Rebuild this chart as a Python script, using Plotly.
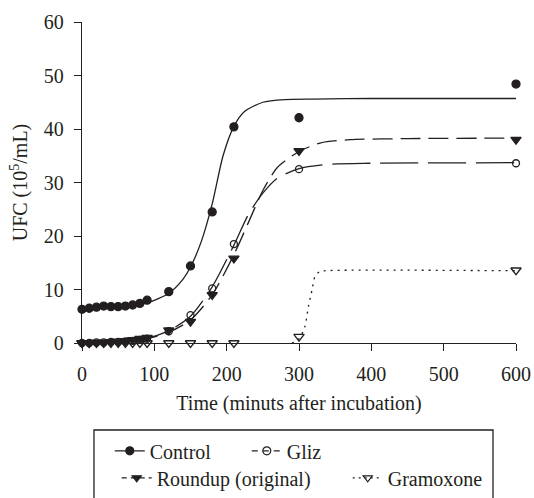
import plotly.graph_objects as go

# ---- data ----
time = [0, 10, 20, 30, 40, 50, 60, 70, 80, 90, 120, 150, 180, 210, 300, 600]
control = [6.3, 6.5, 6.7, 6.9, 6.8, 6.8, 6.9, 7.1, 7.4, 8.0, 9.6, 14.4, 24.5, 40.4, 42.1, 48.4]
gliz = [0.0, 0.0, 0.1, 0.1, 0.2, 0.2, 0.3, 0.4, 0.6, 0.8, 2.2, 5.2, 10.2, 18.5, 32.5, 33.6]
roundup = [0.0, 0.0, 0.1, 0.1, 0.2, 0.3, 0.4, 0.6, 0.8, 1.0, 2.4, 4.0, 9.0, 15.8, 35.9, 38.0]
gramoxone = [0, 0, 0, 0, 0, 0, 0, 0, 0, 0, 0, 0, 0, 0, 1.2, 13.6]

# fitted curves
ctrl_fit_x = [0, 50, 90, 120, 140, 150, 165, 180, 195, 210, 225, 250, 280, 320, 400, 600]
ctrl_fit_y = [6.4, 6.8, 7.5, 9.3, 12.0, 14.2, 19.0, 26.0, 35.0, 40.5, 43.3, 45.0, 45.5, 45.6, 45.7, 45.7]
gliz_fit_x = [0, 50, 90, 120, 150, 180, 210, 230, 250, 270, 300, 340, 400, 600]
gliz_fit_y = [0.1, 0.3, 0.9, 2.3, 5.0, 10.5, 18.3, 24.0, 28.0, 30.8, 32.6, 33.4, 33.6, 33.7]
roundup_fit_x = [0, 50, 90, 120, 150, 180, 210, 230, 250, 270, 300, 330, 370, 450, 600]
roundup_fit_y = [0.0, 0.2, 0.8, 2.0, 4.3, 9.0, 16.5, 22.5, 28.5, 32.8, 35.8, 37.4, 38.0, 38.2, 38.3]
gram_fit_x = [0, 290, 300, 308, 313, 318, 322, 328, 335, 600]
gram_fit_y = [0, 0, 0.8, 3.0, 6.8, 9.9, 12.4, 13.3, 13.5, 13.5]

x_ticks = [0, 100, 200, 300, 400, 500, 600]
y_ticks = [0, 10, 20, 30, 40, 50, 60]

INK = "#231f20"
FONT = "'Liberation Serif', 'Times New Roman', Times, 'DejaVu Serif', serif"
FS = 20

fig = go.Figure()

# fitted curves
curves = [
    (ctrl_fit_x, ctrl_fit_y, "solid"),
    (gliz_fit_x, gliz_fit_y, "38px,10px"),
    (roundup_fit_x, roundup_fit_y, "20px,8px"),
    (gram_fit_x, gram_fit_y, "2px,5px"),
]
for cx, cy, dash in curves:
    fig.add_trace(go.Scatter(x=cx, y=cy, mode="lines", showlegend=False,
                             line=dict(color=INK, width=1.3, dash=dash, shape="spline", smoothing=0.7),
                             hoverinfo="skip"))

# observed points
points = [
    (control, "circle", 8),
    (gliz, "circle-open", 7),
    (roundup, "triangle-down", 9),
    (gramoxone, "triangle-down-open", 9),
]
for vals, sym, size in points:
    fig.add_trace(go.Scatter(x=time, y=vals, mode="markers", showlegend=False, cliponaxis=False,
                             marker=dict(symbol=sym, size=size, color=INK,
                                         line=dict(color=INK, width=1.3))))

# legend entries
legend_items = [
    ("Control", "circle", "solid", "legend", 92),
    ("Gliz", "circle-open", "6px,5px", "legend", 40),
    ("Roundup (original)", "triangle-down", "5px,4px", "legend2", 186),
    ("Gramoxone", "triangle-down-open", "2px,4px", "legend2", 100),
]
for name, sym, dash, lg, lw in legend_items:
    fig.add_trace(go.Scatter(x=[None], y=[None], mode="lines+markers", name=name, legend=lg,
                             legendwidth=lw,
                             line=dict(color=INK, width=1.3, dash=dash),
                             marker=dict(symbol=sym, size=8, color=INK,
                                         line=dict(color=INK, width=1.2))))

axis_common = dict(showline=True, linecolor=INK, linewidth=1.3, ticks="outside", ticklen=7,
                   tickwidth=1.3, tickcolor=INK, showgrid=False, zeroline=False,
                   tickfont=dict(family=FONT, size=FS, color=INK))

fig.update_layout(
    width=534, height=498,
    margin=dict(l=82, r=18, t=22, b=155, autoexpand=False),
    paper_bgcolor="white", plot_bgcolor="white",
    font=dict(family=FONT, color=INK, size=FS),
    xaxis=dict(range=[0, 600], tickvals=x_ticks, ticktext=[str(v) for v in x_ticks],
               ticklabelstandoff=6,
               title=dict(text="Time (minuts after incubation)", font=dict(family=FONT, size=FS, color=INK), standoff=11),
               **axis_common),
    yaxis=dict(range=[0, 60], tickvals=y_ticks, ticktext=[str(v) for v in y_ticks],
               ticklabelstandoff=6,
               title=dict(text="UFC (10<sup>5</sup>/mL)", font=dict(family=FONT, size=FS, color=INK), standoff=10),
               **axis_common),
    legend=dict(orientation="h", x=0.064, xanchor="left", y=-0.336, yanchor="middle",
                bgcolor="rgba(0,0,0,0)", borderwidth=0, font=dict(family=FONT, size=FS, color=INK),
                itemsizing="trace", tracegroupgap=0),
    legend2=dict(orientation="h", x=0.08, xanchor="left", y=-0.42, yanchor="middle",
                 bgcolor="rgba(0,0,0,0)", borderwidth=0, font=dict(family=FONT, size=FS, color=INK),
                 itemsizing="trace", tracegroupgap=0),
    shapes=[dict(type="rect", xref="paper", yref="paper", x0=0.0276, x1=0.947, y0=-0.271, y1=-0.497,
                 line=dict(color=INK, width=1.3), fillcolor="rgba(0,0,0,0)", layer="above")],
)

fig.write_html("out.html")
